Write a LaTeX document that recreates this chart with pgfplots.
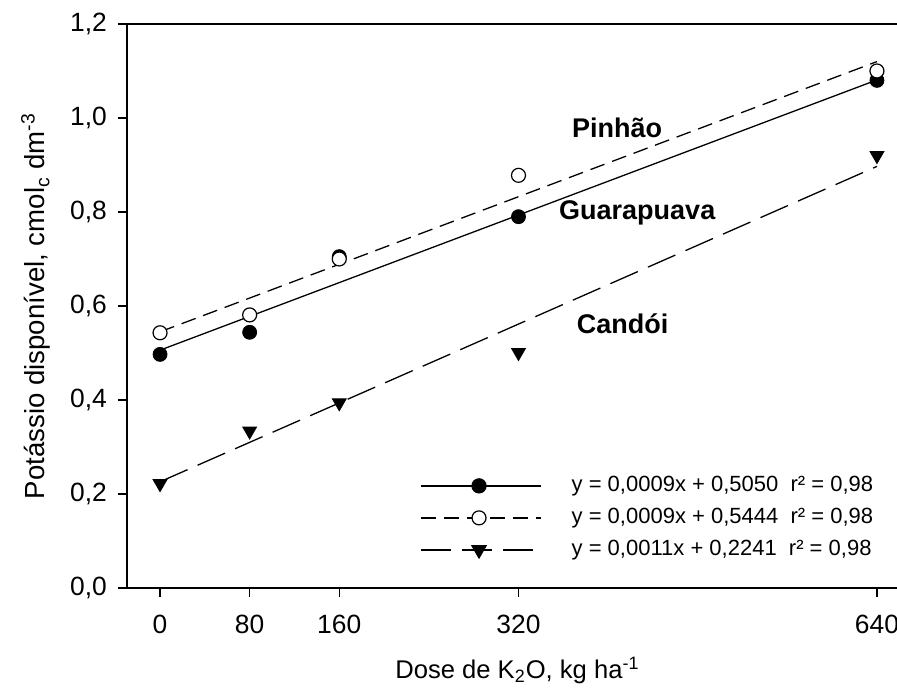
\documentclass[border=0pt]{standalone}
\usepackage{fontspec}
\setmainfont{Liberation Sans}
\usepackage{pgfplots}
\pgfplotsset{compat=1.18}
\begin{document}
\begin{tikzpicture}
\begin{axis}[
  name=ax,
  scale only axis,
  width=385pt, height=282pt,
  xmin=-29.5, xmax=657.9,
  ymin=0, ymax=1.2,
  axis x line*=box,
  axis y line*=left,
  x axis line style={-}, y axis line style={-},
  axis line style={line width=0.75pt},
  xtick={0,80,160,320,640},
  ytick={0,0.2,0.4,0.6,0.8,1.0,1.2},
  xtick pos=left, ytick pos=left,
  tick align=outside,
  major tick length=4.5pt,
  tick style={line width=0.6pt, black},
  /pgf/number format/assume math mode=true,
  tick label style={font=\fontsize{13.2}{16}\selectfont},
  xticklabel shift=5.5pt,
  yticklabel shift=2pt,
  xticklabel style={inner xsep=0pt},
  yticklabel style={/pgf/number format/.cd, fixed, fixed zerofill, precision=1, use comma},
  xlabel={Dose de K\textsubscript{2}O, kg ha\textsuperscript{-1}},
  ylabel={Potássio disponível, cmol\textsubscript{c} dm\textsuperscript{-3}},
  xlabel style={font=\fontsize{12.8}{15}\selectfont, at={(axis description cs:0.507,-0.1596)}, anchor=base},
  ylabel style={font=\fontsize{13.8}{16}\selectfont, at={(axis description cs:-0.1065,0.5)}, anchor=base},
  legend style={at={(axis description cs:0.3805,0.2004)}, anchor=north west, draw=none, fill=none, inner sep=0pt,
    font=\fontsize{11}{13}\selectfont, nodes={inner sep=0pt, text height=8pt, text depth=2.5pt}, row sep=5.5pt},
  legend cell align=left,
  legend image code/.code={
    \draw[mark repeat=2, mark phase=2, #1] plot coordinates {(0pt,0pt) (29pt,0pt) (60pt,0pt)};
    \path (75pt,0pt);
  },
]
% regression lines
\addplot[black, line width=0.65pt, forget plot] coordinates {(0,0.506) (640,1.081)};
\addplot[black, line width=0.65pt, dash pattern=on 7.5pt off 4pt, forget plot] coordinates {(0,0.545) (640,1.120)};
\addplot[black, line width=0.65pt, dash pattern=on 15pt off 5.5pt, forget plot] coordinates {(0,0.226) (640,0.897)};
% data
\addplot[only marks, mark=*, mark size=3.5pt, mark options={fill=black, draw=black}, forget plot]
  coordinates {(0,0.497) (80,0.544) (160,0.705) (320,0.790) (640,1.080)};
\addplot[only marks, mark=*, mark size=3.5pt, mark options={fill=white, draw=black, line width=0.6pt}, forget plot]
  coordinates {(0,0.543) (80,0.581) (160,0.700) (320,0.878) (640,1.100)};
\addplot[only marks, mark=triangle*, mark size=4pt, mark options={rotate=180, fill=black, draw=black}, forget plot]
  coordinates {(0,0.222) (80,0.334) (160,0.394) (320,0.501) (640,0.920)};
% legend
\addlegendimage{black, line width=0.65pt, mark=*, mark size=3.5pt, mark options={solid, fill=black}}
\addlegendentry{y = 0,0009x + 0,5050\ \ r² = 0,98}
\addlegendimage{black, line width=0.65pt, dash pattern=on 7.5pt off 4pt, mark=*, mark size=3.5pt, mark options={solid, fill=white, line width=0.6pt}}
\addlegendentry{y = 0,0009x + 0,5444\ \ r² = 0,98}
\addlegendimage{black, line width=0.65pt, dash pattern=on 15pt off 5.5pt, mark=triangle*, mark size=4pt, mark options={solid, rotate=180, fill=black}}
\addlegendentry{y = 0,0011x + 0,2241\ \ r² = 0,98}
% labels
\node[font=\bfseries\fontsize{13.5}{16}\selectfont] at (axis cs:408,0.979) {Pinhão};
\node[font=\bfseries\fontsize{13.5}{16}\selectfont] at (axis cs:426,0.798) {Guarapuava};
\node[font=\bfseries\fontsize{13.5}{16}\selectfont] at (axis cs:413,0.5625) {Candói};
\end{axis}
\pgfresetboundingbox
\path ([xshift=-63.5pt,yshift=-52.5pt]ax.south west) rectangle ([yshift=12pt]ax.north east);
\end{tikzpicture}
\end{document}
